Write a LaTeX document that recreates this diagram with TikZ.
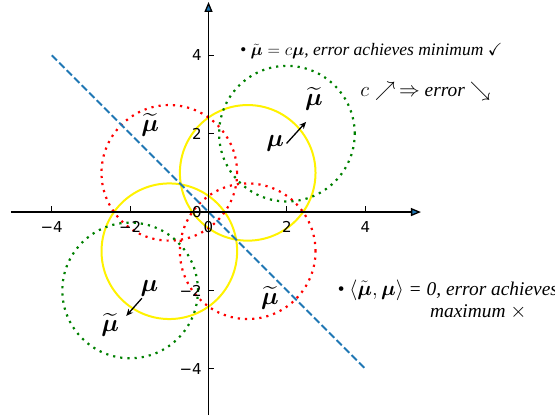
\documentclass[tikz,border=0pt]{standalone}
\usepackage{amsmath}
\usepackage{amssymb}
\usepackage{fontspec}
\setmainfont{Liberation Serif}
\newfontfamily\tickfont{DejaVu Sans}
\usepackage{tikz}
\usetikzlibrary{arrows.meta, positioning}
\usepackage{xcolor}
\definecolor{tabblue}{HTML}{1F77B4}
\definecolor{dotgreen}{HTML}{008000}

\begin{document}
\begin{tikzpicture}[x=39.2pt, y=39.2pt,
    axis/.style={line width=1.3pt, -{Triangle[length=10pt, width=8pt, fill=tabblue]}},
    ring/.style={yellow, line width=2pt},
    dotring/.style={line width=2.2pt, dash pattern=on 2.2pt off 5pt},
    vec/.style={line width=1.3pt, -{Stealth[length=7pt, width=6pt]}},
    sym/.style={font=\fontsize{25}{30}\selectfont, inner sep=0pt},
    ticklbl/.style={font=\tickfont\fontsize{15}{18}\selectfont, inner sep=0pt},
    note/.style={font=\fontsize{17.5}{21}\selectfont\itshape, inner sep=0pt},
    bignote/.style={font=\fontsize{19.4}{24}\selectfont\itshape, inner sep=0pt}]
   \useasboundingbox (-5.32,-5.18) rectangle (8.84,5.41);

   % circles
   \draw[ring] (1,1) circle (1.73);
   \draw[ring] (-1,-1) circle (1.73);
   \draw[dotring, red] (-1,1) circle (1.73);
   \draw[dotring, red] (1,-1) circle (1.73);
   \draw[dotring, dotgreen] (2,2) circle (1.73);
   \draw[dotring, dotgreen] (-2,-2) circle (1.73);

   % orthogonal direction
   \coordinate (d_0) at (-4,4);
   \coordinate (d_1) at (4,-4);
   \draw[tabblue, line width=2pt, dash pattern=on 7.4pt off 3.2pt] (d_0) -- (d_1);

   % axes
   \coordinate (x_min) at (-5.04,0);
   \coordinate (x_max) at (5.42,0);
   \coordinate (y_min) at (0,-5.18);
   \coordinate (y_max) at (0,5.36);
   \draw[axis] (x_min) -- (x_max);
   \draw[axis] (y_min) -- (y_max);
   \foreach \t/\s [count=\i] in {-4/−4, -2/−2, 0/0, 2/2, 4/4} {
      \draw[line width=1pt] (\t,0) -- ++(0,0.15);
      \draw[line width=1pt] (0,\t) -- ++(0.15,0);
      \node[ticklbl] (xl_\i) at (\t,-0.37) {\s};
      \node[ticklbl, anchor=east] (yl_\i) at (-0.17,\t) {\s};
   }

   % vectors
   \node[sym] (mu_a) at (1.70,1.75) {$\boldsymbol{\mu}$};
   \node[sym] (mut_a) at (2.69,2.88) {$\widetilde{\boldsymbol{\mu}}$};
   \node[sym] (mu_b) at (-1.51,-1.95) {$\boldsymbol{\mu}$};
   \node[sym] (mut_b) at (-2.51,-2.88) {$\widetilde{\boldsymbol{\mu}}$};
   \node[sym] (rot_a) at (-1.49,2.22) {$\widetilde{\boldsymbol{\mu}}$};
   \node[sym] (rot_b) at (1.57,-2.19) {$\widetilde{\boldsymbol{\mu}}$};
   \coordinate (va_0) at (1.99,1.75);
   \coordinate (va_1) at (2.49,2.30);
   \coordinate (vb_0) at (-1.70,-2.20);
   \coordinate (vb_1) at (-2.10,-2.65);
   \path[vec]
    (va_0) edge (va_1)
    (vb_0) edge (vb_1)
    ;

   % remarks
   \node[note, anchor=base west] (line_1) at (0.80,4.00)
      {\textbullet\ $\tilde{\boldsymbol{\mu}} = c\boldsymbol{\mu}$, error achieves minimum $\checkmark$};
   \node[bignote, anchor=base west] (line_2) at (3.87,2.96)
      {$c \nearrow\,\Rightarrow$ error $\searrow$};
   \node[bignote, anchor=base west] (line_3) at (3.29,-2.12)
      {\textbullet\ $\langle\tilde{\boldsymbol{\mu}},\boldsymbol{\mu}\rangle$ = 0, error achieves};
   \node[bignote, anchor=base west] (line_4) at (5.65,-2.70)
      {maximum $\times$};
\end{tikzpicture}
\end{document}
